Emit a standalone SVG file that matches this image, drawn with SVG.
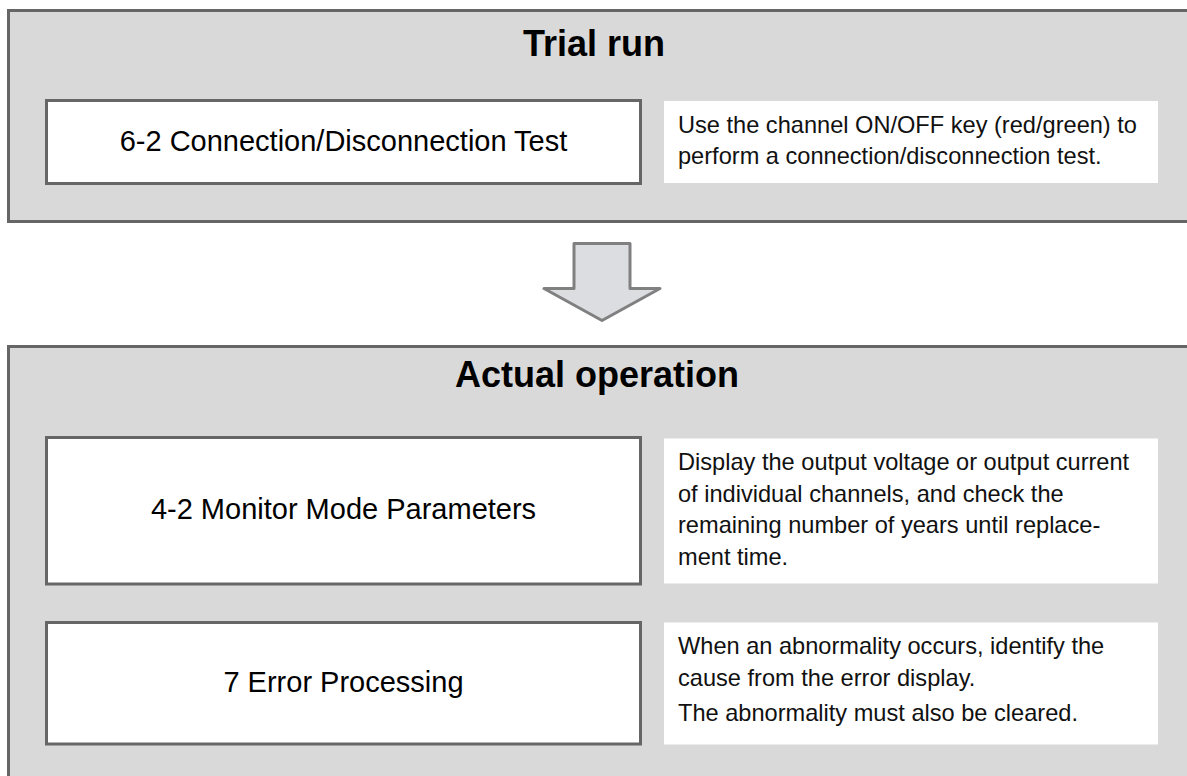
<svg xmlns="http://www.w3.org/2000/svg" width="1187" height="776" viewBox="0 0 1187 776">
<style>
.section{fill:#d9d9d9;stroke:#666666;stroke-width:3}
.step{fill:#ffffff;stroke:#666666;stroke-width:3}
.desc{fill:#ffffff}
.title{font-family:"Liberation Sans",Arial,sans-serif;font-weight:bold;font-size:36px;fill:#000;text-anchor:middle}
.label{font-family:"Liberation Sans",Arial,sans-serif;font-size:29px;fill:#000;text-anchor:middle}
.dtext{font-family:"Liberation Sans",Arial,sans-serif;font-size:23.6px;fill:#111}
.arrow{fill:#dcdde0;stroke:#808080;stroke-width:3;stroke-linejoin:round}
</style>
<rect width="1187" height="776" fill="#ffffff"/>
<g id="trial-run">
<rect class="section" x="8.5" y="10.5" width="1190" height="211"/>
<text class="title" x="594" y="56">Trial run</text>
</g>
<g id="step-6-2">
<rect class="step" x="46.5" y="100.5" width="594" height="83"/>
<text class="label" x="343.5" y="151">6-2 Connection/Disconnection Test</text>
</g>
<g id="desc-6-2">
<rect class="desc" x="664" y="101" width="494" height="82"/>
<text class="dtext" x="678" y="133">Use the channel ON/OFF key (red/green) to</text>
<text class="dtext" x="678" y="163.5">perform a connection/disconnection test.</text>
</g>
<g id="connectors">
<path class="arrow" d="M574,243.5 H630 V288.5 H660 L602,320.5 L544,288.5 H574 Z"/>
</g>
<g id="actual-operation">
<rect class="section" x="8.5" y="346.5" width="1190" height="440"/>
<text class="title" x="597" y="387">Actual operation</text>
</g>
<g id="step-4-2">
<rect class="step" x="46.5" y="437.5" width="594" height="146.5"/>
<text class="label" x="343.5" y="519">4-2 Monitor Mode Parameters</text>
</g>
<g id="desc-4-2">
<rect class="desc" x="664" y="438.5" width="494" height="145"/>
<text class="dtext" x="678" y="470">Display the output voltage or output current</text>
<text class="dtext" x="678" y="501.7">of individual channels, and check the</text>
<text class="dtext" x="678" y="533.3">remaining number of years until replace-</text>
<text class="dtext" x="678" y="565">ment time.</text>
</g>
<g id="step-7">
<rect class="step" x="46.5" y="622.5" width="594" height="121.5"/>
<text class="label" x="343.5" y="692">7 Error Processing</text>
</g>
<g id="desc-7">
<rect class="desc" x="664" y="622.5" width="494" height="122"/>
<text class="dtext" x="678" y="654">When an abnormality occurs, identify the</text>
<text class="dtext" x="678" y="686">cause from the error display.</text>
<text class="dtext" x="678" y="721">The abnormality must also be cleared.</text>
</g>
</svg>
